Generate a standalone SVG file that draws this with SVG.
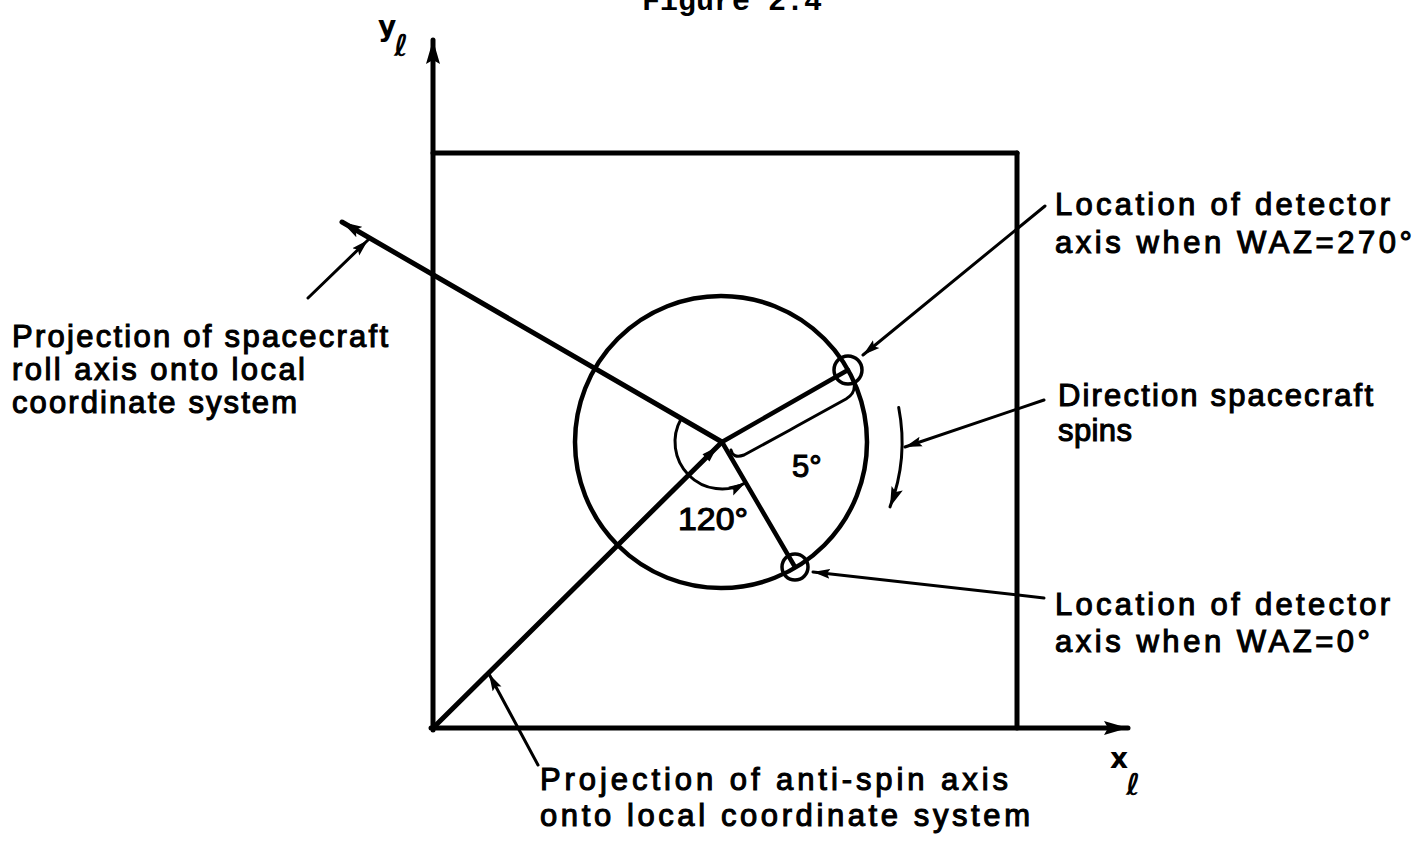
<svg xmlns="http://www.w3.org/2000/svg" width="1415" height="841" viewBox="0 0 1415 841">
<style>
.lbl{font-family:"Liberation Sans",Arial,sans-serif;font-size:31px;fill:#000;stroke:#000;stroke-width:1.1px}
.ax{font-family:"DejaVu Sans","Liberation Sans",sans-serif;font-weight:bold;fill:#000}
.heavy{stroke:#000;stroke-width:5;fill:none;stroke-linecap:round}
.med{stroke:#000;stroke-width:4.5;fill:none;stroke-linecap:round}
.thin{stroke:#000;stroke-width:3;fill:none;stroke-linecap:round;stroke-linejoin:round}
</style>
<defs>
<marker id="axisHead" markerUnits="userSpaceOnUse" markerWidth="26" markerHeight="16" refX="24" refY="8" orient="auto" viewBox="0 0 26 16"><path d="M0,1 L24,8 L0,15 L4,8 z" fill="#000"/></marker>
<marker id="midHead" markerUnits="userSpaceOnUse" markerWidth="22" markerHeight="14" refX="20" refY="7" orient="auto" viewBox="0 0 22 14"><path d="M0,1 L20,7 L0,13 L4,7 z" fill="#000"/></marker>
<marker id="leadHead" markerUnits="userSpaceOnUse" markerWidth="18" markerHeight="12" refX="17" refY="6" orient="auto" viewBox="0 0 18 12"><path d="M0,1 L17,6 L0,11 L3,6 z" fill="#000"/></marker>
</defs>
<rect width="1415" height="841" fill="#fff"/>

<g id="title"><text x="642" y="10" font-family="'Liberation Mono',monospace" font-size="30" font-weight="bold">Figure 2.4</text></g>

<g id="frame">
<line class="heavy" x1="433" y1="153" x2="1017" y2="153"/>
<line class="heavy" x1="1017" y1="153" x2="1017" y2="728"/>
</g>

<g id="y-axis">
<line class="heavy" x1="433" y1="730" x2="433" y2="40" marker-end="url(#axisHead)"/>
<text class="ax" x="378" y="36" font-size="28">y</text>
<text class="ax" x="394" y="56" font-size="30" font-style="italic">ℓ</text>
</g>
<g id="x-axis">
<line class="heavy" x1="431" y1="728" x2="1128" y2="728" marker-end="url(#axisHead)"/>
<text class="ax" x="1110" y="768" font-size="28">x</text>
<text class="ax" x="1126" y="795" font-size="30" font-style="italic">ℓ</text>
</g>

<g id="spin-circle">
<circle class="med" cx="721" cy="442" r="146"/>
</g>

<g id="roll-axis">
<line class="heavy" x1="722" y1="442" x2="342" y2="222" marker-end="url(#midHead)"/>
</g>

<g id="anti-spin-axis">
<line class="heavy" x1="433" y1="728" x2="722" y2="442"/>
<polygon points="717,447 709.5,461.4 702.5,454.3" fill="#000"/>
</g>

<g id="detector-270">
<line class="med" x1="722" y1="442" x2="848" y2="370"/>
<circle cx="848" cy="370" r="14" fill="none" stroke="#000" stroke-width="3.5"/>
</g>
<g id="detector-0">
<line class="med" x1="722" y1="442" x2="795" y2="567"/>
<circle cx="795" cy="567" r="13" fill="none" stroke="#000" stroke-width="3.5"/>
</g>

<g id="angle-120">
<path class="thin" d="M681.3,418.5 A47,47 0 0 0 745.5,482.7" marker-end="url(#leadHead)"/>
<text class="lbl" x="678" y="530" font-size="38" textLength="70" lengthAdjust="spacingAndGlyphs">120°</text>
</g>

<g id="angle-5">
<path class="thin" d="M731,450 Q733,459 744,455 L790,430 L797,426 L846,399 Q856,393 854,383"/>
<text class="lbl" x="792" y="477" font-size="40">5°</text>
</g>

<g id="spin-direction">
<path class="thin" stroke-width="3.5" d="M898.7,407.5 A181,181 0 0 1 890,506.9" marker-end="url(#midHead)"/>
</g>

<g id="connectors">
<line class="thin" x1="308" y1="298" x2="368" y2="240" marker-end="url(#leadHead)"/>
<line class="thin" x1="1045" y1="206" x2="863" y2="355" marker-end="url(#leadHead)"/>
<line class="thin" x1="1044" y1="400" x2="905" y2="447" marker-end="url(#leadHead)"/>
<line class="thin" x1="1044" y1="598" x2="813" y2="572" marker-end="url(#leadHead)"/>
<line class="thin" x1="538" y1="765" x2="489" y2="674" marker-end="url(#leadHead)"/>
</g>

<g id="label-roll">
<text class="lbl" x="12" y="347" textLength="376" lengthAdjust="spacing">Projection of spacecraft</text>
<text class="lbl" x="12" y="380" textLength="293" lengthAdjust="spacing">roll axis onto local</text>
<text class="lbl" x="12" y="413" textLength="285" lengthAdjust="spacing">coordinate system</text>
</g>
<g id="label-waz270">
<text class="lbl" x="1055" y="215" textLength="335" lengthAdjust="spacing">Location of detector</text>
<text class="lbl" x="1055" y="253" textLength="357" lengthAdjust="spacing">axis when WAZ=270°</text>
</g>
<g id="label-spin">
<text class="lbl" x="1058" y="406" textLength="315" lengthAdjust="spacing">Direction spacecraft</text>
<text class="lbl" x="1058" y="441" textLength="74" lengthAdjust="spacing">spins</text>
</g>
<g id="label-waz0">
<text class="lbl" x="1055" y="615" textLength="335" lengthAdjust="spacing">Location of detector</text>
<text class="lbl" x="1055" y="652" textLength="315" lengthAdjust="spacing">axis when WAZ=0°</text>
</g>
<g id="label-antispin">
<text class="lbl" x="540" y="790" textLength="468" lengthAdjust="spacing">Projection of anti-spin axis</text>
<text class="lbl" x="540" y="826" textLength="490" lengthAdjust="spacing">onto local coordinate system</text>
</g>
</svg>
